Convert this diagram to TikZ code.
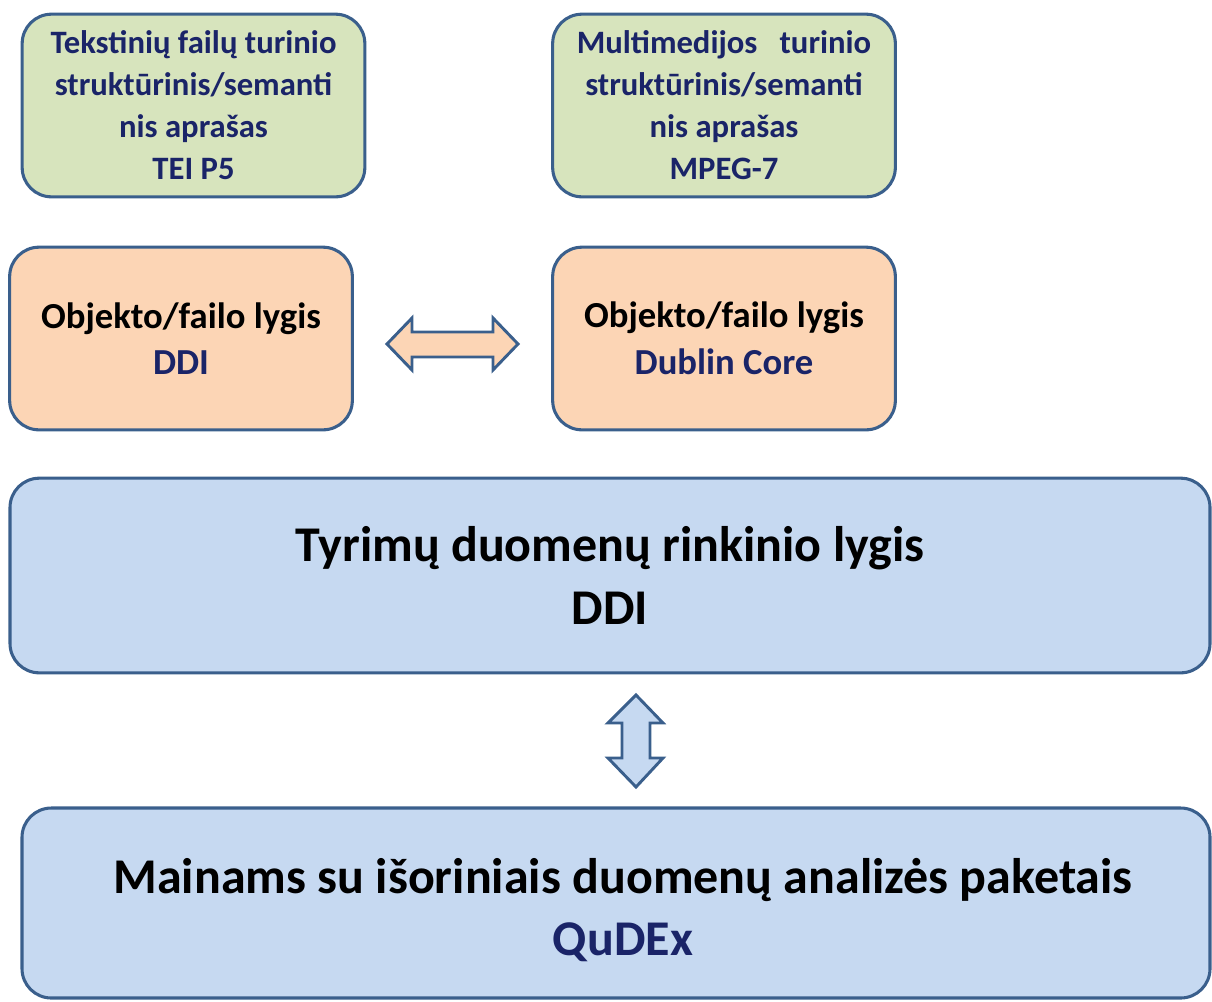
\documentclass[tikz,border=0pt]{standalone}
\usepackage{fontspec}
\setmainfont{Carlito}
\usetikzlibrary{positioning}
\definecolor{edgeblue}{HTML}{3A5F8C}
\definecolor{greenfill}{HTML}{D7E4BD}
\definecolor{orangefill}{HTML}{FCD5B5}
\definecolor{bluefill}{HTML}{C6D9F1}
\definecolor{navy}{HTML}{1A2468}

\begin{document}
\begin{tikzpicture}[x=0.75pt, y=-0.75pt,
			box/.style={draw=edgeblue, line width=2.3pt, rounded corners=22pt, align=center, inner sep=0pt},
			greenbox/.style={box, fill=greenfill, text=navy, minimum width=257pt, minimum height=137pt,
				font=\fontsize{24.5}{31.5}\selectfont\bfseries},
			orangebox/.style={box, fill=orangefill, minimum width=257pt, minimum height=137pt,
				font=\fontsize{27.5}{35}\selectfont\bfseries},
			bluebox/.style={box, fill=bluefill, minimum height=146pt,
				font=\fontsize{37.5}{47}\selectfont\bfseries},
			blockarrow/.style={draw=edgeblue, line width=2.2pt}]
			
			\useasboundingbox (0,0) rectangle (1212,1001);
			
			% Turinio aprasai
			\node[greenbox] (tei) at (193.5,105.5) {Tekstinių failų turinio\\struktūrinis/semanti\\nis aprašas\\TEI P5};
			\node[greenbox] (mpeg) at (724,105.5) {Multimedijos~~ turinio\\struktūrinis/semanti\\nis aprašas\\MPEG-7};
			
			% Objekto/failo lygis
			\node[orangebox] (ddi) at (181,338.5) {Objekto/failo lygis\\\textcolor{navy}{DDI}};
			\node[orangebox] (dc) at (724,338.5) {Objekto/failo lygis\\\textcolor{navy}{Dublin Core}};
			
			% Rinkinio lygis ir mainai
			\node[bluebox, minimum width=900pt] (set) at (610,575.5) {Tyrimų duomenų rinkinio lygis\\DDI};
			\node[bluebox, minimum width=891pt, minimum height=142.5pt] (qudex) at (616,903) {};
			\node[bluebox, draw=none, fill=none, minimum height=0pt] (qudextxt) at (623,910) {Mainams su išoriniais duomenų analizės paketais\\\textcolor{navy}{QuDEx}};
			
			% Dvipuses rodykles
			\draw[blockarrow, fill=orangefill] (387,344) -- (412,318) -- (412,332) -- (493,332) -- (493,318) -- (518,344)
				-- (493,370) -- (493,357) -- (412,357) -- (412,370) -- cycle;
			\draw[blockarrow, fill=bluefill] (636,695) -- (663,723) -- (650,723) -- (650,758) -- (663,758) -- (636,787)
				-- (608,758) -- (622,758) -- (622,723) -- (608,723) -- cycle;
			
		\end{tikzpicture}
\end{document}
